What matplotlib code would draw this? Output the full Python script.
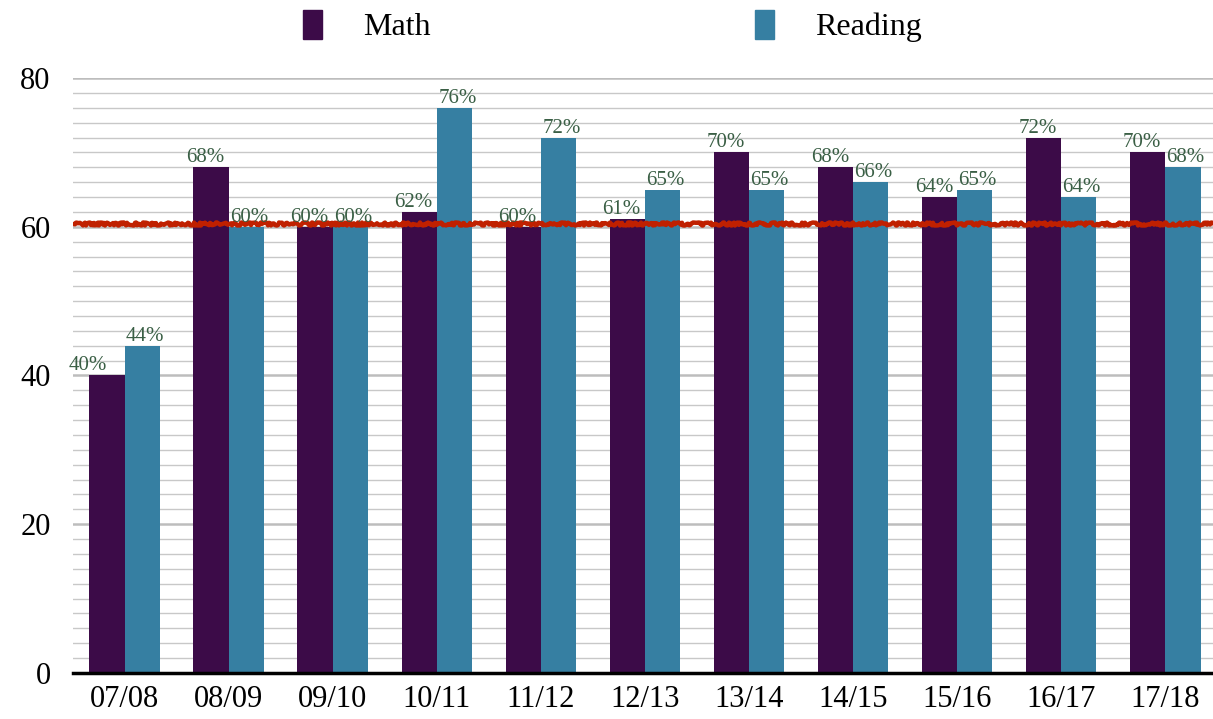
import matplotlib
matplotlib.use("Agg")
import matplotlib.pyplot as plt
import numpy as np
from matplotlib.patches import Patch

plt.rcParams['font.family'] = ['Liberation Serif', 'DejaVu Serif']

years = ["07/08", "08/09", "09/10", "10/11", "11/12", "12/13", "13/14", "14/15", "15/16", "16/17", "17/18"]
math_vals = [40, 68, 60, 62, 60, 61, 70, 68, 64, 72, 70]
reading_vals = [44, 60, 60, 76, 72, 65, 65, 66, 65, 64, 68]
target = 60.4

math_color = "#3c0b48"
reading_color = "#367fa2"
label_color = "#3a5f45"

fig = plt.figure(figsize=(12.13, 7.19), dpi=100)
ax = fig.add_axes([0.060, 0.064, 0.940, 0.8275])

x = np.arange(len(years))
w = 0.34
ax.bar(x - w/2, math_vals, w, color=math_color, zorder=3)
ax.bar(x + w/2, reading_vals, w, color=reading_color, zorder=3)

for i, (xi, m, r) in enumerate(zip(x, math_vals, reading_vals)):
    dx = -14 if i == 0 else -4
    ax.annotate(f"{m}%", (xi - w/2, m), xytext=(dx, 0), textcoords="offset points",
                ha="center", va="bottom", fontsize=15, color=label_color, zorder=5)
    ax.annotate(f"{r}%", (xi + w/2, r), xytext=(2, 0), textcoords="offset points",
                ha="center", va="bottom", fontsize=15, color=label_color, zorder=5)

line, = ax.plot([-0.5, 10.5], [target, target], color="#c02000", lw=3.2, zorder=4)
line.set_sketch_params(scale=1.5, length=3, randomness=40)

ax.set_xlim(-0.5, 10.46)
ax.set_ylim(0, 80)
ax.set_yticks([0, 20, 40, 60, 80])
ax.set_yticks(np.arange(0, 81, 2), minor=True)
ax.grid(axis='y', which='major', color="#bdbdbd", lw=1.8, zorder=0)
ax.grid(axis='y', which='minor', color="#c8c8c8", lw=1.0, zorder=0)
ax.set_xticks(x)
ax.set_xticklabels(years)
ax.tick_params(axis='both', which='both', length=0, labelsize=22)
ax.tick_params(axis='y', pad=16)
ax.tick_params(axis='x', pad=9)
for s in ['top', 'right', 'left']:
    ax.spines[s].set_visible(False)
ax.spines['bottom'].set_linewidth(2.5)
ax.spines['bottom'].set_color('black')
ax.spines['bottom'].set_zorder(6)

leg_kw = dict(loc="center left", frameon=False, fontsize=23, handlelength=0.6,
              handleheight=1.05, handletextpad=1.28, borderpad=0, borderaxespad=0)
fig.legend(handles=[Patch(color=math_color, label="Math")],
           bbox_to_anchor=(303 / 1213, 1 - 26 / 719), **leg_kw)
fig.legend(handles=[Patch(color=reading_color, label="Reading")],
           bbox_to_anchor=(755 / 1213, 1 - 26 / 719), **leg_kw)

fig.savefig("out.png", dpi=100)
